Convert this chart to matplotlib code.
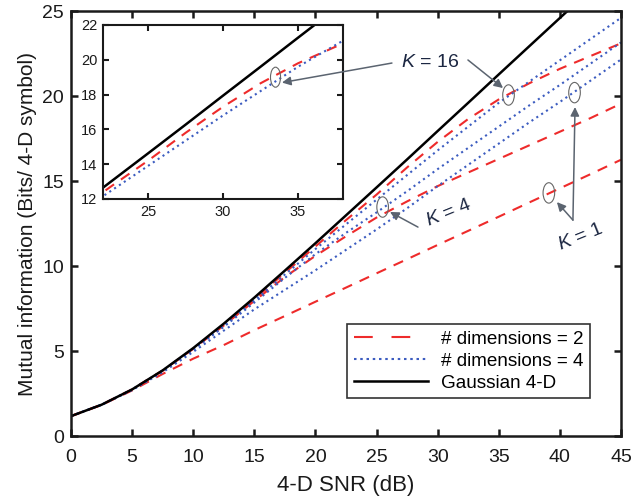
import matplotlib
matplotlib.use('Agg')
from matplotlib import pyplot as plt
from matplotlib.patches import Ellipse
from matplotlib.lines import Line2D

plt.rcParams['font.family'] = ['Liberation Sans', 'DejaVu Sans']
plt.rcParams['mathtext.fontset'] = 'custom'
plt.rcParams['mathtext.it'] = 'Liberation Sans:italic'
plt.rcParams['mathtext.rm'] = 'Liberation Sans'

# values (4-D SNR in dB)
snr = [0, 2.5, 5, 7.5, 10, 12.5, 15, 17.5, 20, 22.5, 25, 27.5, 30, 32.5, 35, 37.5, 40, 42.5, 45]
gauss = [1.17, 1.84, 2.74, 3.86, 5.17, 6.61, 8.14, 9.73, 11.34, 12.98, 14.62, 16.27,
         17.94, 19.60, 21.27, 22.93, 24.59, 26.25, 27.91]
# dimensions = 2 (red dashed)
d2_k16 = [1.17, 1.84, 2.74, 3.85, 5.14, 6.55, 8.05, 9.6, 11.15, 12.7, 14.2, 15.8,
          17.3, 18.65, 19.8, 20.75, 21.6, 22.35, 23.1]
d2_k4 = [1.17, 1.84, 2.74, 3.85, 5.13, 6.5, 7.95, 9.35, 10.6, 11.75, 12.85, 13.8,
         14.7, 15.5, 16.3, 17.1, 17.9, 18.7, 19.55]
d2_k1 = [1.17, 1.83, 2.68, 3.65, 4.55, 5.35, 6.23, 7.06, 7.9, 8.73, 9.57, 10.4,
         11.24, 12.07, 12.9, 13.74, 14.57, 15.4, 16.25]
# dimensions = 4 (blue dotted)
d4_k16 = [1.17, 1.84, 2.74, 3.85, 5.13, 6.5, 7.98, 9.5, 11.0, 12.45, 13.9, 15.35,
          16.8, 18.2, 19.6, 20.85, 22.1, 23.35, 24.6]
d4_k4 = [1.17, 1.84, 2.73, 3.82, 5.08, 6.42, 7.85, 9.3, 10.7, 11.95, 13.15, 14.4,
         15.7, 16.95, 18.2, 19.45, 20.65, 21.9, 23.15]
d4_k1 = [1.17, 1.83, 2.7, 3.75, 4.95, 6.2, 7.45, 8.6, 9.75, 10.95, 12.15, 13.4,
         14.7, 15.95, 17.2, 18.45, 19.65, 20.9, 22.15]

red = '#ee2b2b'
blue = '#3c5cc0'
grey = '#5b6470'
navy = '#1c2742'

def draw(ax, curves):
    for y, kind in curves:
        if kind == 'r':
            ax.plot(snr, y, color=red, lw=1.5, dashes=(5, 4), dash_capstyle='butt')
        elif kind == 'b':
            ax.plot(snr, y, color=blue, lw=1.5, dashes=(1, 1.8), dash_capstyle='butt')
        else:
            ax.plot(snr, y, color='black', lw=1.8)

def style(ax, lw, size):
    for s in ax.spines.values():
        s.set_linewidth(lw)
        s.set_color('#1a1a1a')
    ax.tick_params(direction='in', top=True, right=True, length=5, width=lw,
                   labelsize=size, colors='#1a1a1a', pad=5)

fig = plt.figure(figsize=(6.35, 5.01), dpi=100)
ax = fig.add_axes([0.1118, 0.1297, 0.8661, 0.8483])
draw(ax, [(d2_k1, 'r'), (d2_k4, 'r'), (d2_k16, 'r'),
          (d4_k1, 'b'), (d4_k4, 'b'), (d4_k16, 'b'), (gauss, 'k')])
ax.set_xlim(0, 45)
ax.set_ylim(0, 25)
ax.set_xticks(range(0, 46, 5))
ax.set_yticks(range(0, 26, 5))
style(ax, 1.8, 14)
ax.tick_params(axis='x', pad=9.5)
ax.set_xlabel('4-D SNR (dB)', fontsize=16, color='#1a1a1a', labelpad=6)
ax.set_ylabel('Mutual information (Bits/ 4-D symbol)', fontsize=15, color='#1a1a1a', labelpad=4)

handles = [Line2D([], [], color=red, lw=1.5, dashes=(9, 9)),
           Line2D([], [], color=blue, lw=1.5, dashes=(1.2, 1.8)),
           Line2D([], [], color='black', lw=1.8)]
leg = ax.legend(handles, ['# dimensions = 2', '# dimensions = 4', 'Gaussian 4-D'],
                loc='lower right', bbox_to_anchor=(0.944, 0.089), borderaxespad=0,
                fontsize=13.6, handlelength=3.9, handletextpad=0.7, fancybox=False,
                framealpha=1, edgecolor='#333333', labelspacing=0.25, borderpad=0.35)
leg.get_frame().set_linewidth(1.2)

# ellipses and labels
for cx, cy in [(35.8, 20.06), (25.5, 13.47), (41.2, 20.2), (39.1, 14.3)]:
    ax.add_patch(Ellipse((cx, cy), 0.95, 1.2, fill=False, ec='#666666', lw=0.8, zorder=5))

arrow = dict(arrowstyle='-|>', color=grey, lw=1.1, mutation_scale=13, shrinkA=0, shrinkB=0)
ax.text(29.4, 22.0, '$K$ = 16', fontsize=14, color=navy, ha='center', va='center')
ax.annotate('', xy=(35.35, 20.47), xytext=(32.48, 22.12), arrowprops=arrow)
ax.text(30.9, 13.1, '$K$ = 4', fontsize=14, color=navy, ha='center', va='center', rotation=22)
ax.annotate('', xy=(26.1, 13.18), xytext=(28.39, 12.29), arrowprops=arrow)
ax.text(41.7, 11.7, '$K$ = 1', fontsize=14, color=navy, ha='center', va='center', rotation=22)
ax.annotate('', xy=(41.24, 19.35), xytext=(41.07, 12.7), arrowprops=arrow)
ax.annotate('', xy=(39.76, 13.76), xytext=(41.07, 12.7), arrowprops=arrow)

# inset
axin = fig.add_axes([0.1622, 0.6028, 0.378, 0.3473])
draw(axin, [(d2_k16, 'r'), (d4_k16, 'b'), (gauss, 'k')])
axin.set_xlim(22, 38)
axin.set_ylim(12, 22)
axin.set_xticks([25, 30, 35])
axin.set_yticks(range(12, 23, 2))
style(axin, 1.5, 10.5)
axin.tick_params(length=4, pad=4)
axin.add_patch(Ellipse((33.5, 19.0), 0.67, 1.15, fill=False, ec='#666666', lw=0.8, zorder=5))
axin.annotate('', xy=(33.93, 18.69), xytext=(26.26, 21.94), xycoords='data',
              textcoords=ax.transData, arrowprops=arrow, annotation_clip=False)

fig.savefig('out.png', dpi=100)
